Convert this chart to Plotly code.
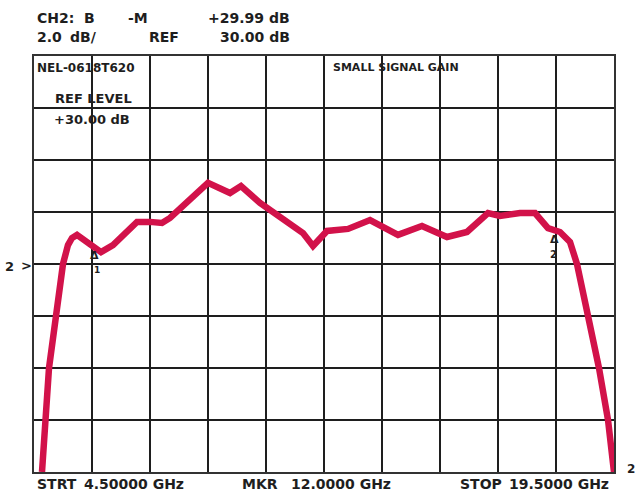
import plotly.graph_objects as go

# Swept small-signal gain trace, CH2 (frequency in GHz, gain in dB)
freq_ghz = [4.707, 4.784, 4.888, 5.069, 5.25, 5.379, 5.483, 5.612, 5.897, 6.233,
            6.543, 6.853, 7.164, 7.5, 7.81, 8.017, 8.534, 9.0, 9.569, 9.853,
            10.345, 11.457, 11.716, 12.078, 12.621, 13.19, 13.914, 14.534,
            15.181, 15.698, 16.241, 16.552, 17.069, 17.457, 17.793, 18.103, 18.362,
            18.543, 18.828, 19.112, 19.345, 19.5]
gain_db = [22.0, 24.0, 26.0, 28.0, 30.0, 30.73, 31.0, 31.12, 30.81, 30.46,
           30.73, 31.15, 31.62, 31.62, 31.58, 31.77, 32.46, 33.12, 32.73, 33.0,
           32.35, 31.19, 30.69, 31.27, 31.35, 31.69, 31.12, 31.46,
           31.04, 31.23, 31.96, 31.85, 31.96, 31.96, 31.38, 31.23, 30.85,
           30.0, 28.0, 26.0, 24.0, 22.0]

start_ghz, stop_ghz = 4.5, 19.5
ref_db, db_per_div, n_ydiv = 30.0, 2.0, 8
n_xdiv = 10

W, H = 636, 493
L, R, T, B = 34, 22, 56, 21
PW, PH = W - L - R, H - T - B

INK = "#1e1e1e"
TRACE = "#d2124a"
FONT = "DejaVu Sans"


def px(x):
    return (x - L) / PW


def py(y):
    return (H - B - y) / PH


fig = go.Figure()
fig.add_trace(go.Scatter(x=freq_ghz, y=gain_db, mode="lines",
                         line=dict(color=TRACE, width=6.5), hoverinfo="skip",
                         showlegend=False))

ymin = ref_db - db_per_div * n_ydiv / 2
ymax = ref_db + db_per_div * n_ydiv / 2
xdiv = (stop_ghz - start_ghz) / n_xdiv

axis_common = dict(showticklabels=False, ticks="", zeroline=False,
                   showgrid=True, gridcolor=INK, gridwidth=2,
                   showline=True, linecolor="#333333", linewidth=2, mirror=True)
fig.update_xaxes(range=[start_ghz, stop_ghz], dtick=xdiv, tick0=start_ghz, **axis_common)
fig.update_yaxes(range=[ymin, ymax], dtick=db_per_div, tick0=ymin, **axis_common)

annotations = []


def text(s, x, y, size=14, anchor="left"):
    annotations.append(dict(text="<b>%s</b>" % s, x=px(x), y=py(y), xref="paper",
                            yref="paper", showarrow=False, xanchor=anchor,
                            yanchor="middle", borderpad=0,
                            font=dict(family=FONT, size=size, color=INK)))


# header readouts
text("CH2:", 36, 18)
text("B", 83, 18)
text("-M", 127, 18)
text("+29.99 dB", 291, 18, anchor="right")
text("2.0", 36, 37)
text("dB/", 69, 37)
text("REF", 148, 37)
text("30.00 dB", 291, 37, anchor="right")

# in-graticule labels
text("NEL-0618T620", 36, 68, size=12)
text("REF LEVEL", 54, 99, size=13)
text("+30.00 dB", 53, 119, size=13)
text("SMALL SIGNAL GAIN", 332, 67, size=11)

# footer
text("STRT", 36, 484)
text("4.50000 GHz", 83, 484)
text("MKR", 241, 484)
text("12.0000 GHz", 290, 484)
text("STOP", 459, 484)
text("19.5000 GHz", 508, 484)

# reference-level pointer and channel tag
text("2", 4, 266, size=13)
text(">", 20, 265, size=13)
text("2", 626, 469, size=12)

# markers
text("Δ", 94, 255, size=11, anchor="center")
text("1", 97, 270, size=9, anchor="center")
text("Δ", 554, 239, size=11, anchor="center")
text("2", 553, 254, size=10, anchor="center")

fig.update_layout(width=W, height=H, margin=dict(l=L, r=R, t=T, b=B),
                  paper_bgcolor="white", plot_bgcolor="white",
                  annotations=annotations)

fig.write_html("out.html")
